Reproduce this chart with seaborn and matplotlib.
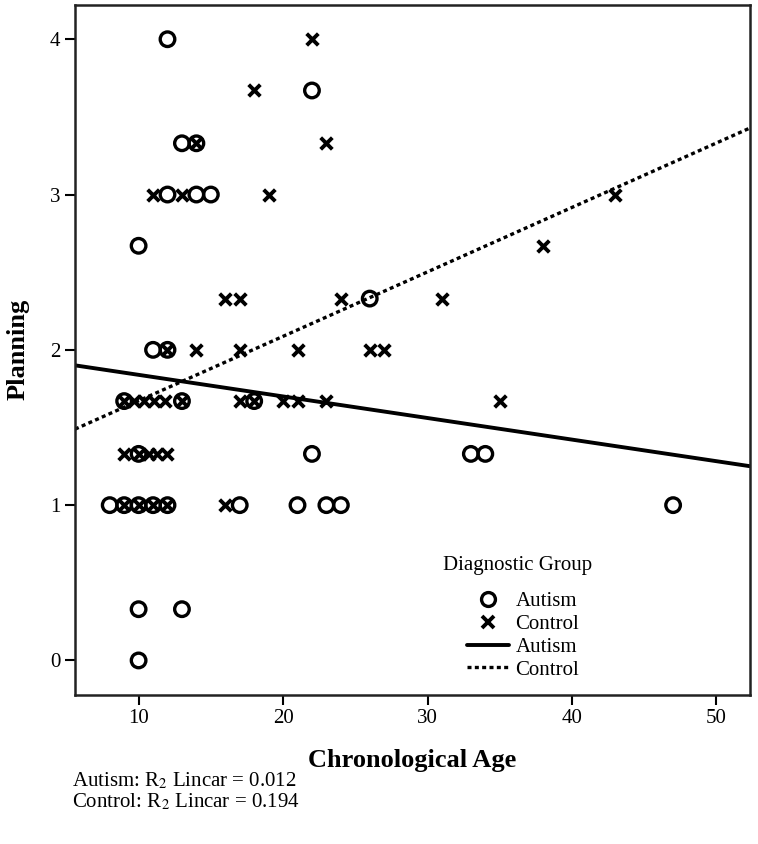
import numpy as np
import pandas as pd
import seaborn as sns
import matplotlib.pyplot as plt
from matplotlib.lines import Line2D

# Autism group (chronological age, planning score)
autism_age = [12, 22, 13, 14, 12, 14, 15, 10, 26, 11, 12, 9, 13, 18,
              10, 22, 33, 34, 8, 9, 10, 11, 12, 17, 21, 23, 24, 47, 10, 13, 10]
autism_plan = [4, 3.67, 3.33, 3.33, 3, 3, 3, 2.67, 2.33, 2, 2, 1.67, 1.67, 1.67,
               1.33, 1.33, 1.33, 1.33, 1, 1, 1, 1, 1, 1, 1, 1, 1, 1, 0.33, 0.33, 0]

# Control group
control_age = [22, 18, 23, 14, 11, 13, 19, 43, 38, 16, 17, 24, 31,
               12, 14, 17, 21, 26, 27,
               9, 9.7, 10.4, 11.1, 11.8, 13, 17, 18, 20, 21, 23, 35,
               9, 10, 10.7, 11.3, 12,
               9, 10, 11, 12, 16]
control_plan = [4, 3.67, 3.33, 3.33, 3, 3, 3, 3, 2.67, 2.33, 2.33, 2.33, 2.33,
                2, 2, 2, 2, 2, 2,
                1.67, 1.67, 1.67, 1.67, 1.67, 1.67, 1.67, 1.67, 1.67, 1.67, 1.67, 1.67,
                1.33, 1.33, 1.33, 1.33, 1.33,
                1, 1, 1, 1, 1]

# linear fit lines (intercept, slope)
autism_fit = (1.978, -0.0139)
control_fit = (1.257, 0.0415)

x_ticks = [10, 20, 30, 40, 50]
y_ticks = [0, 1, 2, 3, 4]

df_a = pd.DataFrame({'age': autism_age, 'plan': autism_plan})
df_c = pd.DataFrame({'age': control_age, 'plan': control_plan})

sns.set_style('ticks')
plt.rcParams['font.family'] = ['Liberation Serif', 'DejaVu Serif']
plt.rcParams['mathtext.fontset'] = 'stix'
plt.rcParams['text.color'] = 'black'
plt.rcParams['axes.labelcolor'] = 'black'
plt.rcParams['xtick.color'] = 'black'
plt.rcParams['ytick.color'] = 'black'

fig = plt.figure(figsize=(7.58, 8.44), dpi=100)
ax = fig.add_axes([0.099, 0.177, 0.890, 0.817])

sns.scatterplot(data=df_a, x='age', y='plan', ax=ax, marker='o', s=110,
                facecolor='none', edgecolor='black', linewidth=2.4, zorder=3)
sns.scatterplot(data=df_c, x='age', y='plan', ax=ax, marker='x', s=70,
                color='black', linewidth=2.8, zorder=3)

ax.axline((0, autism_fit[0]), slope=autism_fit[1], color='black', lw=2.8)
ax.axline((0, control_fit[0]), slope=control_fit[1], color='black', lw=2.4,
          linestyle=(0, (1.2, 1.0)))

ax.set_xlim(5.6, 52.3)
ax.set_ylim(-0.22, 4.22)
ax.set_xticks(x_ticks)
ax.set_yticks(y_ticks)
ax.tick_params(labelsize=15, length=7, width=1.5, color='black')
for s in ax.spines.values():
    s.set_linewidth(1.8)
    s.set_color('#222222')

ax.set_xlabel('Chronological Age', fontsize=19, fontweight='bold', labelpad=15)
ax.set_ylabel('Planning', fontsize=19, fontweight='bold', labelpad=15)

# legend (title placed separately for the wider gap)
fig.text(0.683, 0.330, 'Diagnostic Group', fontsize=15, ha='center', va='center')
handles = [
    Line2D([], [], marker='o', ls='none', mfc='none', mec='black', mew=2.4, ms=10),
    Line2D([], [], marker='x', ls='none', color='black', mew=2.8, ms=8),
    Line2D([], [], color='black', lw=2.8),
    Line2D([], [], color='black', lw=2.4, linestyle=(0, (1.2, 1.0))),
]
leg = ax.legend(handles, ['Autism', 'Control', 'Autism', 'Control'],
                frameon=False, fontsize=15, loc='upper left',
                bbox_to_anchor=(0.592, 0.321), bbox_transform=fig.transFigure,
                handlelength=2.0, handletextpad=0.3, labelspacing=0.15)

fig.text(0.095, 0.075, 'Autism: R$_2$ Lincar = 0.012', fontsize=15, va='center')
fig.text(0.095, 0.050, 'Control: R$_2$ Lincar = 0.194', fontsize=15, va='center')

fig.savefig('out.png', dpi=100, facecolor='white')
